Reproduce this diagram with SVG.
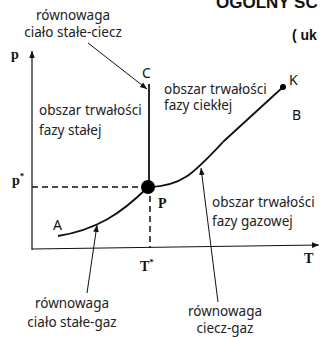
<svg xmlns="http://www.w3.org/2000/svg" width="320" height="337" viewBox="0 0 320 337">
<style>
.t{font-family:"Noto Sans","Liberation Sans",sans-serif;font-size:13.5px;fill:#222}
.l{font-family:"Noto Sans","Liberation Sans",sans-serif;font-size:14px;fill:#111}
.b{font-family:"Liberation Serif","DejaVu Serif",serif;font-weight:bold;font-size:14px;fill:#111}
.h{font-family:"Liberation Sans",sans-serif;font-weight:bold;fill:#111}
.ln{stroke:#111;fill:none}
</style>
<defs>
<marker id="ah" viewBox="0 0 10 10" refX="10" refY="5" markerWidth="7" markerHeight="7" orient="auto" markerUnits="userSpaceOnUse">
<path d="M0,1 L10,5 L0,9 z" fill="#111"/>
</marker>
</defs>
<rect width="320" height="337" fill="#fff"/>
<g id="title">
<text class="h" x="216" y="8" font-size="17">OGÓLNY SC</text>
<text class="h" x="292" y="40" font-size="14">( uk</text>
</g>
<g id="axes">
<line class="ln" x1="32" y1="250" x2="32" y2="51" stroke-width="1.2" marker-end="url(#ah)"/>
<line class="ln" x1="32" y1="249" x2="319" y2="245" stroke-width="1.2" marker-end="url(#ah)"/>
<text class="b" x="11" y="59">p</text>
<text class="b" x="12" y="185">p<tspan font-size="9" dy="-6">*</tspan></text>
<text class="b" x="304" y="263" font-size="13">T</text>
<text class="b" x="140" y="271" font-size="13">T<tspan font-size="9" dy="-6">*</tspan></text>
</g>
<g id="curves">
<line class="ln" x1="32" y1="187" x2="141" y2="187" stroke-width="1.5" stroke-dasharray="6,4"/>
<line class="ln" x1="150" y1="196" x2="150" y2="248" stroke-width="1.5" stroke-dasharray="6,4"/>
<line class="ln" x1="149" y1="84" x2="149" y2="187" stroke-width="1.8"/>
<path class="ln" d="M58,236 C95,230 120,215 148,187" stroke-width="1.8"/>
<path class="ln" d="M148,187 C182,187 195,172 224,141 L283,87" stroke-width="1.8"/>
</g>
<g id="P"><circle cx="148" cy="187" r="7" fill="#000"/><text class="b" x="158" y="208">P</text></g>
<g id="K"><circle cx="283" cy="87" r="3" fill="#000"/><text class="l" x="289" y="85">K</text></g>
<g id="A"><text class="l" x="53" y="230">A</text></g>
<g id="B"><text class="l" x="292" y="120">B</text></g>
<g id="C"><text class="l" x="142" y="78">C</text></g>
<g id="solid"><text class="t" x="39" y="115">obszar trwałości</text><text class="t" x="39" y="135">fazy stałej</text></g>
<g id="liquid"><text class="t" x="164" y="94">obszar trwałości</text><text class="t" x="164" y="110">fazy ciekłej</text></g>
<g id="gas"><text class="t" x="212" y="207">obszar trwałości</text><text class="t" x="212" y="226">fazy gazowej</text></g>
<g id="sl" text-anchor="middle"><text class="t" x="73" y="20">równowaga</text><text class="t" x="73" y="37">ciało stałe-ciecz</text></g>
<g id="sg" text-anchor="middle"><text class="t" x="72" y="308">równowaga</text><text class="t" x="72" y="327">ciało stałe-gaz</text></g>
<g id="lg" text-anchor="middle"><text class="t" x="225" y="316">równowaga</text><text class="t" x="225" y="333">ciecz-gaz</text></g>
<g id="connectors">
<line class="ln" x1="88" y1="43" x2="147" y2="89" stroke-width="1" marker-end="url(#ah)"/>
<line class="ln" x1="87" y1="293" x2="97" y2="225" stroke-width="1" marker-end="url(#ah)"/>
<line class="ln" x1="218" y1="302" x2="201" y2="168" stroke-width="1" marker-end="url(#ah)"/>
</g>
</svg>
